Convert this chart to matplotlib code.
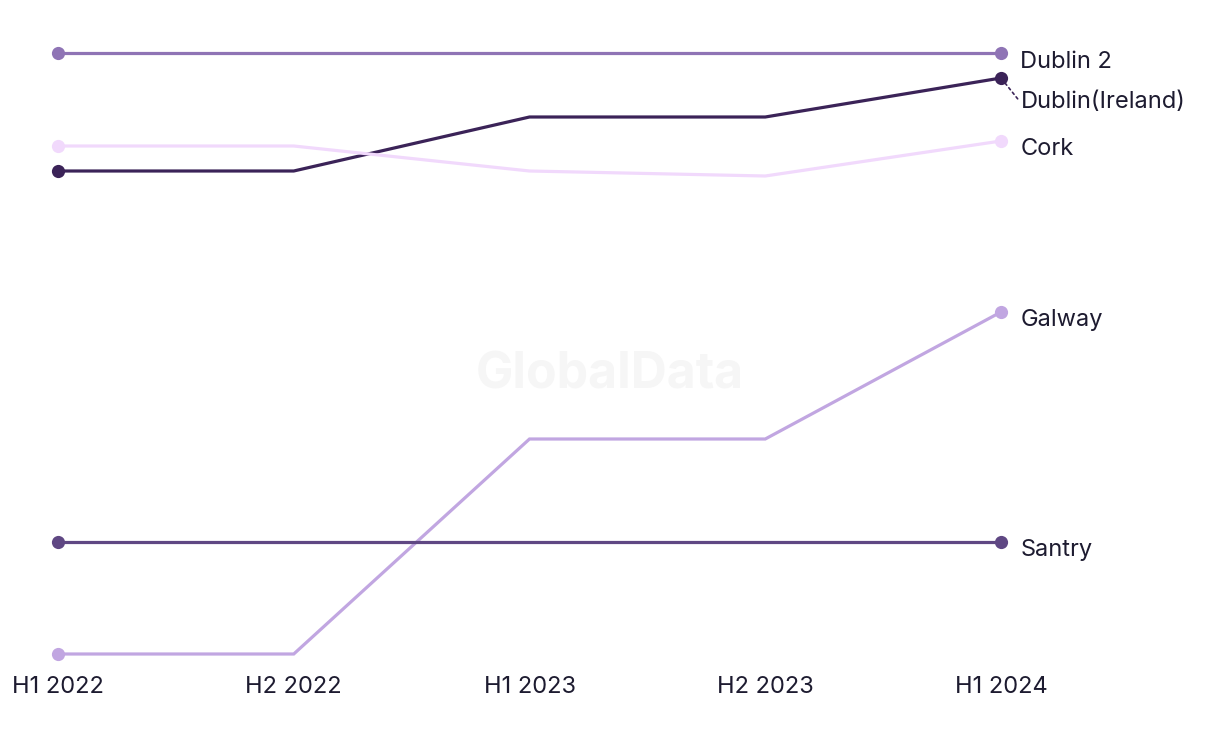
import matplotlib
matplotlib.use("Agg")
import matplotlib.pyplot as plt

# half-year periods on the x axis
periods = ["H1 2022", "H2 2022", "H1 2023", "H2 2023", "H1 2024"]

# index values per location
dublin2 = [64.7, 64.7, 64.7, 64.7, 64.7]
dublin_ireland = [52.9, 52.9, 58.3, 58.3, 62.2]
cork = [55.4, 55.4, 52.9, 52.4, 55.9]
galway = [4.6, 4.6, 26.1, 26.1, 38.8]
santry = [15.8, 15.8, 15.8, 15.8, 15.8]

names = ["Dublin 2", "Dublin(Ireland)", "Cork", "Galway", "Santry"]
series = [dublin2, dublin_ireland, cork, galway, santry]
colors = ["#8f74b5", "#3b2358", "#f1d9fc", "#c1a6e1", "#5f4783"]
# label offsets in points (dx, dy) - Dublin(Ireland) pushed down to avoid overlap
label_offsets = [(14, -6.5), (14, -17.5), (14, -6), (14, -5.5), (14, -5.5)]

plt.rcParams["font.family"] = ["Inter", "DejaVu Sans"]
text_color = "#1d1b30"

fig = plt.figure(figsize=(12.2, 7.44), dpi=100)
ax = fig.add_axes([58 / 1220, (744 - 654) / 744, (1001 - 58) / 1220, (654 - 53) / 744])

x = list(range(len(periods)))
for name, vals, col, (dx, dy) in zip(names, series, colors, label_offsets):
    ax.plot(x, vals, color=col, lw=2.3, solid_joinstyle="miter", clip_on=False, zorder=3)
    ax.plot([x[0], x[-1]], [vals[0], vals[-1]], "o", color=col, ms=9.5,
            mec="none", clip_on=False, zorder=4)
    if name == "Dublin(Ireland)":
        ax.annotate(name, xy=(x[-1], vals[-1]), xytext=(dx, dy),
                    textcoords="offset points", fontsize=17, color=text_color,
                    va="center", ha="left",
                    arrowprops=dict(arrowstyle="-", ls=(0, (1.5, 2)), color=col,
                                    lw=1.2, shrinkA=0, shrinkB=4,
                                    relpos=(0, 0.5)))
    else:
        ax.annotate(name, xy=(x[-1], vals[-1]), xytext=(dx, dy),
                    textcoords="offset points", fontsize=17, color=text_color,
                    va="center", ha="left")

ax.set_xlim(0, 4)
ax.set_ylim(4.6, 64.7)
ax.set_xticks(x)
ax.set_xticklabels(periods, fontsize=17, color=text_color)
ax.tick_params(axis="x", length=0, pad=16)
ax.set_yticks([])
for sp in ax.spines.values():
    sp.set_visible(False)

# faint watermark
fig.text(610 / 1220, 1 - 375 / 744, "GlobalData", fontsize=36, fontweight="bold",
         color="#f6f6f6", ha="center", va="center", zorder=0)

fig.savefig("out.png", dpi=100, facecolor="white")
